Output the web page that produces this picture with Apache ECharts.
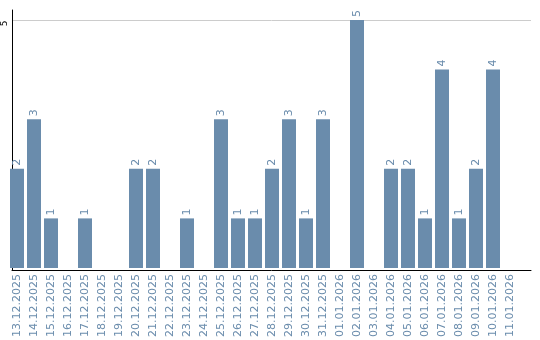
<!DOCTYPE html>
<html>
<head>
<meta charset="utf-8">
<script src="https://cdn.jsdelivr.net/npm/echarts@6/dist/echarts.min.js"></script>
<style>
  html, body { margin: 0; padding: 0; background: #fff; }
  #chart { width: 540px; height: 340px; }
</style>
</head>
<body>
<div id="chart"></div>
<script>
// daily counts, one bar per day
const days = [
  '13.12.2025', '14.12.2025', '15.12.2025', '16.12.2025', '17.12.2025',
  '18.12.2025', '19.12.2025', '20.12.2025', '21.12.2025', '22.12.2025',
  '23.12.2025', '24.12.2025', '25.12.2025', '26.12.2025', '27.12.2025',
  '28.12.2025', '29.12.2025', '30.12.2025', '31.12.2025', '01.01.2026',
  '02.01.2026', '03.01.2026', '04.01.2026', '05.01.2026', '06.01.2026',
  '07.01.2026', '08.01.2026', '09.01.2026', '10.01.2026', '11.01.2026'
];
const counts = [
  2, 3, 1, 0, 1,
  0, 0, 2, 2, 0,
  1, 0, 3, 1, 1,
  2, 3, 1, 3, 0,
  5, 0, 2, 2, 1,
  4, 1, 2, 4, 0
];
const yTicks = [5];

const barColor = '#6a8cac';
const font = 'DejaVu Sans';

const chart = echarts.init(document.getElementById('chart'));
chart.setOption({
  animation: false,
  // grid 0 holds the bars, grid 1 only draws the frame / split line
  grid: [
    { left: 8.5, top: 10, width: 510, bottom: 70 },
    { left: 10, top: 10, right: 9, bottom: 70 }
  ],
  xAxis: [
    {
      type: 'category', gridIndex: 0, data: days,
      axisLine: { show: false }, axisTick: { show: false },
      axisLabel: {
        rotate: 90, interval: 0, margin: 6,
        color: barColor, fontFamily: font, fontSize: 11
      }
    },
    {
      type: 'value', gridIndex: 1, min: 0, max: 1,
      axisLine: { show: true, lineStyle: { color: '#000', width: 1 } },
      axisTick: { show: false }, axisLabel: { show: false }, splitLine: { show: false }
    }
  ],
  yAxis: [
    {
      type: 'value', gridIndex: 0, min: 0, max: 5.2, interval: 5,
      axisLine: { show: false }, axisTick: { show: false },
      axisLabel: { show: false }, splitLine: { show: false }
    },
    {
      type: 'value', gridIndex: 1, min: 0, max: 5.2, interval: 5,
      axisLine: { show: true, lineStyle: { color: '#000', width: 1 } },
      axisTick: { show: false },
      axisLabel: {
        rotate: 90, margin: 3, color: '#000', fontFamily: font, fontSize: 9,
        padding: [0, 7, 0, 0],
        formatter: v => (yTicks.indexOf(v) >= 0 ? String(v) : '')
      },
      splitLine: {
        show: true, showMinLine: false, showMaxLine: false,
        lineStyle: { color: '#cccccc', width: 1 }
      }
    }
  ],
  series: [{
    type: 'bar',
    xAxisIndex: 0, yAxisIndex: 0,
    data: counts,
    barWidth: 14,
    itemStyle: { color: barColor },
    label: {
      show: true, position: 'top', rotate: 90, distance: 3,
      align: 'left', verticalAlign: 'middle',
      color: barColor, fontFamily: font, fontSize: 11,
      formatter: p => (p.value ? String(p.value) : '')
    }
  }]
});
</script>
</body>
</html>
